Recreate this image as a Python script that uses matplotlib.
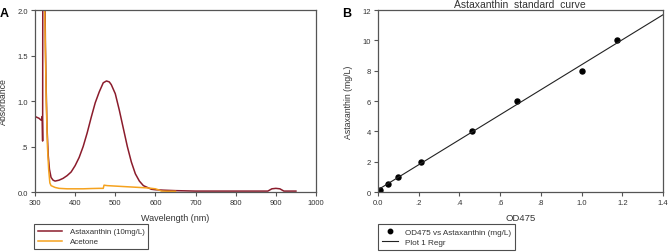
import numpy as np
import matplotlib
matplotlib.use("Agg")
import matplotlib.pyplot as plt
from matplotlib.lines import Line2D

plt.rcParams['font.family'] = ['Liberation Sans', 'DejaVu Sans']

# --- panel A: absorbance spectra ---
asta_wl = [300, 305, 310, 315, 317, 318, 319, 319.5, 324, 326, 328, 330, 333, 336, 340,
           345, 350, 360, 370, 380, 390, 400, 410, 420, 430, 440, 450, 460, 470, 478,
           485, 490, 500, 510, 520, 530, 540, 550, 560, 570, 580, 590, 600, 620, 650,
           700, 800, 880, 890, 900, 910, 920, 950]
asta_abs = [0.83, 0.82, 0.81, 0.79, 0.80, 0.83, 0.56, 2.5, 2.5, 1.6, 1.1, 0.7, 0.4, 0.25, 0.16,
            0.13, 0.12, 0.13, 0.15, 0.18, 0.22, 0.29, 0.38, 0.5, 0.65, 0.82, 0.98, 1.1, 1.2, 1.22,
            1.21, 1.18, 1.08, 0.9, 0.7, 0.5, 0.33, 0.2, 0.12, 0.07, 0.05, 0.03, 0.025, 0.02, 0.015,
            0.01, 0.01, 0.01, 0.035, 0.04, 0.035, 0.01, 0.01]

acet_wl = [322, 325, 328, 331, 334, 337, 340, 350, 360, 380, 400, 420, 440, 460, 470,
           472, 480, 500, 520, 540, 560, 580, 600, 610, 615, 630, 650]
acet_abs = [2.5, 1.8, 1.0, 0.5, 0.25, 0.1, 0.07, 0.05, 0.04, 0.035, 0.035, 0.035, 0.038, 0.04, 0.04,
            0.075, 0.07, 0.065, 0.06, 0.055, 0.05, 0.045, 0.035, 0.02, 0.01, 0.008, 0.008]

a_xticks = [300, 400, 500, 600, 700, 800, 900, 1000]
a_yticks = [0.0, 0.5, 1.0, 1.5, 2.0]
a_yticklabels = ['0.0', '.5', '1.0', '1.5', '2.0']

# --- panel B: standard curve ---
od475 = [0.01, 0.05, 0.1, 0.21, 0.46, 0.685, 1.0, 1.175]
conc = [0.1, 0.5, 1.0, 2.0, 4.0, 6.0, 8.0, 10.0]
b_xticks = [0.0, 0.2, 0.4, 0.6, 0.8, 1.0, 1.2, 1.4]
b_xticklabels = ['0.0', '.2', '.4', '.6', '.8', '1.0', '1.2', '1.4']
b_yticks = [0, 2, 4, 6, 8, 10, 12]

red = '#8b1c2c'
orange = '#f5a21e'
txt = '#333333'
spine_c = '#555555'

W, H = 669, 253
fig = plt.figure(figsize=(W / 100, H / 100), dpi=100)


def box(x0, y0, x1, y1):
    return [x0 / W, 1 - y1 / H, (x1 - x0) / W, (y1 - y0) / H]


def style(ax):
    for s in ax.spines.values():
        s.set_color(spine_c)
        s.set_linewidth(0.9)
    ax.tick_params(direction='out', length=3, width=0.8, color=spine_c,
                   labelsize=5.5, labelcolor=txt, pad=2)


axA = fig.add_axes(box(35, 11, 316, 193))
axA.plot(asta_wl, asta_abs, color=red, lw=1.1, label='Astaxanthin (10mg/L)')
axA.plot(acet_wl, acet_abs, color=orange, lw=1.1, label='Acetone')
axA.set_xlim(300, 1000)
axA.set_ylim(0, 2)
axA.set_xticks(a_xticks)
axA.set_yticks(a_yticks)
axA.set_yticklabels(a_yticklabels)
style(axA)
axA.set_xlabel('Wavelength (nm)', fontsize=6.5, color=txt, labelpad=5)
axA.set_ylabel('Absorbance', fontsize=6.3, color=txt, labelpad=7)

axB = fig.add_axes(box(378, 11, 663, 193))
slope, inter = np.polyfit(od475, conc, 1)
xs = np.array([0.0, 1.4])
axB.plot(od475, conc, 'o', color='black', ms=3.6, label='OD475 vs Astaxanthin (mg/L)')
axB.plot(xs, inter + slope * xs, color='#222222', lw=0.8, label='Plot 1 Regr')
axB.set_xlim(0, 1.4)
axB.set_ylim(0, 12)
axB.set_xticks(b_xticks)
axB.set_xticklabels(b_xticklabels)
axB.set_yticks(b_yticks)
style(axB)
axB.set_xlabel('OD475', fontsize=6.8, color=txt, labelpad=5)
axB.set_ylabel('Astaxanthin (mg/L)', fontsize=6.3, color=txt, labelpad=7)

fig.text(520 / W, 1 - 8 / H, 'Astaxanthin  standard  curve', ha='center', va='baseline',
         fontsize=7.5, color=txt)
fig.text(0 / W, 1 - 17 / H, 'A', fontsize=9, fontweight='bold', color='black')
fig.text(342 / W, 1 - 17 / H, 'B', fontsize=9, fontweight='bold', color='black')

legA = fig.legend(*axA.get_legend_handles_labels(), loc='upper left',
                  bbox_to_anchor=(34 / W, 1 - 225 / H), fontsize=5.7, frameon=True,
                  fancybox=False, edgecolor='#222222', handlelength=3.0, handletextpad=1.0,
                  labelspacing=0.3, borderpad=0.5, labelcolor=txt, borderaxespad=0)
legA.get_frame().set_linewidth(0.8)

hB = [Line2D([], [], marker='o', ls='none', color='black', ms=3.2),
      Line2D([], [], color='#222222', lw=0.8)]
legB = fig.legend(hB, ['OD475 vs Astaxanthin (mg/L)', 'Plot 1 Regr'], loc='upper left',
                  bbox_to_anchor=(378 / W, 1 - 225 / H), fontsize=5.9, frameon=True,
                  fancybox=False, edgecolor='#222222', handlelength=2.0, handletextpad=0.8,
                  labelspacing=0.3, borderpad=0.5, labelcolor=txt, borderaxespad=0)
legB.get_frame().set_linewidth(0.8)

fig.savefig('out.png', dpi=100)
